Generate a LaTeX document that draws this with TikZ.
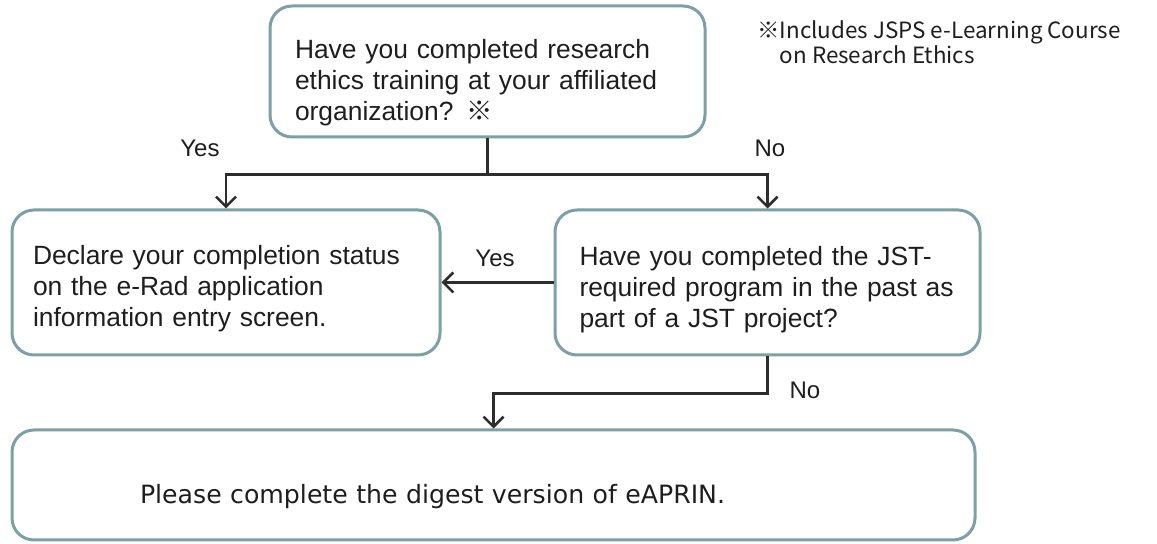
\documentclass[tikz,border=0pt]{standalone}
\usepackage{fontspec}
\setmainfont{Liberation Sans}
\newfontfamily\cjkfont{Noto Sans CJK JP}
\newfontfamily\notefont{DejaVu Sans}
\usetikzlibrary{arrows.meta,positioning,calc}
\definecolor{boxteal}{RGB}{124,160,165}
\definecolor{linegray}{RGB}{45,45,45}
\definecolor{textgray}{RGB}{30,30,30}

\begin{document}
\begin{tikzpicture}[x=0.5pt,y=-0.5pt,
    flowbox/.style={draw=boxteal,line width=1.5pt,rounded corners=11pt,fill=white,
      inner sep=0pt,align=left,text=textgray,font=\fontsize{13.2}{15.5}\selectfont},
    flowarrow/.style={-{Straight Barb[length=5pt,width=10pt,line width=1.3pt]},line width=1.1pt,linegray},
    answer/.style={text=textgray,font=\fontsize{12}{14}\selectfont}]
  \useasboundingbox[fill=white] (0,0) rectangle (1157,544);
  % question boxes
  \node[flowbox,minimum width=217.5pt,minimum height=65.5pt,text width=192.5pt] (ethics) at (487.5,71.5)
    {\par\vspace*{5pt}Have you completed research\\ethics training at your affiliated\\organization? {\cjkfont ※}};
  \node[flowbox,minimum width=214pt,minimum height=72.5pt,text width=193pt] (declare) at (226,282.5)
    {\par\vspace*{0.5pt}Declare your completion status\\on the e-Rad application\\information entry screen.};
  \node[flowbox,minimum width=212.5pt,minimum height=72.5pt,text width=188pt] (jstprog) at (767.5,282.5)
    {\par\vspace*{1.5pt}Have you completed the JST-\\required program in the past as\\part of a JST project?};
  \node[flowbox,minimum width=481.5pt,minimum height=55pt,text width=353.5pt,
    font=\notefont\fontsize{12.6}{15}\selectfont] (digest) at (493.5,485)
    {\par\vspace*{6pt}Please complete the digest version of eAPRIN.};
  % footnote
  \node[anchor=north west,align=left,inner sep=0pt,text=textgray,
    font=\cjkfont\fontsize{11.2}{12.5}\selectfont] (note) at (757,20)
    {※Includes JSPS e-Learning Course\\\phantom{※}on Research Ethics};
  % connectors
  \coordinate (split) at ($(ethics.south)+(0,36)$);
  \draw[line width=1.1pt,linegray] (ethics.south) -- (split);
  \draw[flowarrow] (split) -| (declare.north);
  \draw[flowarrow] (split) -| (jstprog.north);
  \draw[flowarrow] (jstprog.west) -- (declare.east);
  \draw[flowarrow] (jstprog.south) -- ++(0,37) -| (digest.north);
  % answers
  \node[answer] (yes1) at (200,148) {Yes};
  \node[answer] (no1) at (770,148) {No};
  \node[answer] (yes2) at (495,258) {Yes};
  \node[answer] (no2) at (805,390) {No};
\end{tikzpicture}
\end{document}
